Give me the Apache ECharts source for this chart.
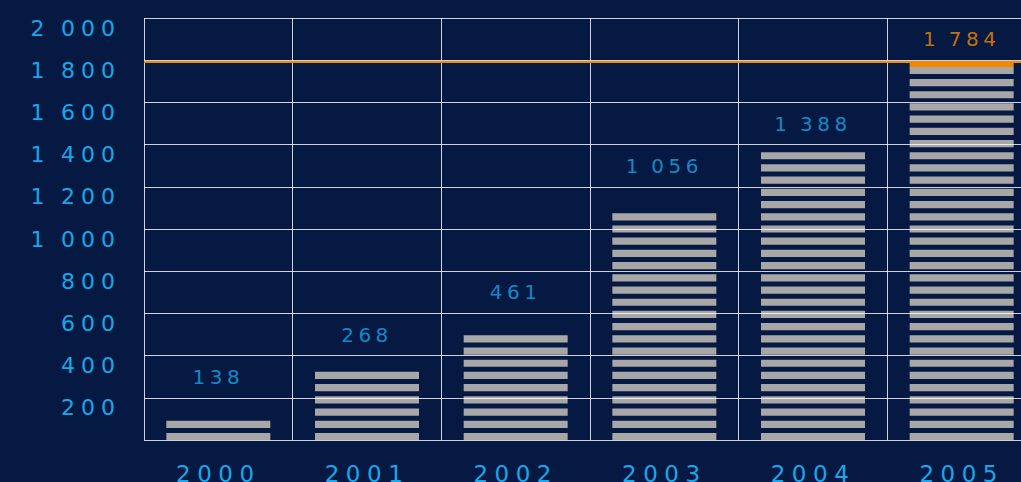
<!DOCTYPE html>
<html><head><meta charset="utf-8">
<style>
html,body{margin:0;padding:0;background:#051943;overflow:hidden;}
#c{width:1021px;height:482px;}
#c text[style*="22px"]{letter-spacing:6px;}
#c text[style*="23px"]{letter-spacing:6.5px;}
#c text[style*="20px"]{letter-spacing:4.5px;}
</style>
<script src="https://cdn.jsdelivr.net/npm/echarts@6/dist/echarts.min.js"></script>
</head><body><div id="c"></div>
<script>
// ---- data ----
const years = ['2000', '2001', '2002', '2003', '2004', '2005'];
const barValues = [90, 310, 480, 1052, 1340, 1750];
const labelTexts = [138, 268, 461, 1056, 1388, 1784];
const labelPositions = [300, 500, 700, 1300, 1500, 1900];
const capValues = [null, null, null, null, null, 1792];
const markValue = 1792;
const highlightIndex = 5;
const yMin = 0, yMax = 2000, yStep = 200;

// ---- style ----
const BG = '#051943';
const CYAN = '#16a8ea';
const ORANGE = '#f28a00';
const GRAY = '#a7a7a7';
const GRID = 'rgba(255,255,255,0.8)';
const FONT = 'DejaVu Sans';

function fmt(v) {
  const s = String(v);
  return s.length > 3 ? s.slice(0, -3) + '\u2009' + s.slice(-3) : s;
}

const chart = echarts.init(document.getElementById('c'), null, { renderer: 'svg' });
chart.setOption({
  backgroundColor: BG,
  animation: false,
  grid: { left: 144, right: -15, top: 18, bottom: 42, containLabel: false, outerBoundsMode: 'none' },
  xAxis: {
    type: 'category',
    data: years,
    z: 5,
    axisLine: { show: false },
    axisTick: { show: false },
    splitLine: { show: true, interval: 0, lineStyle: { color: GRID, width: 1 } },
    axisLabel: {
      interval: 0, color: CYAN, fontFamily: FONT, fontSize: 23, margin: 22
    }
  },
  yAxis: {
    type: 'value',
    min: yMin, max: yMax, interval: yStep,
    z: 5,
    axisLine: { show: false },
    axisTick: { show: false },
    splitLine: { show: true, lineStyle: { color: GRID, width: 1 } },
    axisLabel: {
      color: CYAN, fontFamily: FONT, fontSize: 22, margin: 23,
      verticalAlign: 'top', lineHeight: 20,
      formatter: v => (v === 0 ? '' : fmt(v))
    }
  },
  series: [
    {
      type: 'pictorialBar',
      data: barValues,
      symbol: 'rect',
      symbolRepeat: true,
      symbolSize: [104, 7],
      symbolMargin: 2.65,
      itemStyle: { color: GRAY },
      z: 2,
      markLine: {
        silent: true,
        symbol: ['none', 'none'],
        label: { show: false },
        lineStyle: { color: ORANGE, width: 2, type: 'solid' },
        data: [{ yAxis: markValue }]
      }
    },
    {
      type: 'pictorialBar',
      data: capValues,
      symbol: 'rect',
      symbolSize: [104, 5],
      symbolPosition: 'end',
      itemStyle: { color: ORANGE },
      z: 3
    },
    {
      type: 'scatter',
      symbolSize: 1,
      itemStyle: { color: 'rgba(0,0,0,0)' },
      z: 6,
      data: labelPositions.map((v, i) => ({
        value: v,
        label: { color: i === highlightIndex ? ORANGE : CYAN }
      })),
      label: {
        show: true, position: 'inside', fontFamily: FONT, fontSize: 20,
        formatter: p => fmt(labelTexts[p.dataIndex])
      }
    }
  ]
});
</script>
</body></html>
